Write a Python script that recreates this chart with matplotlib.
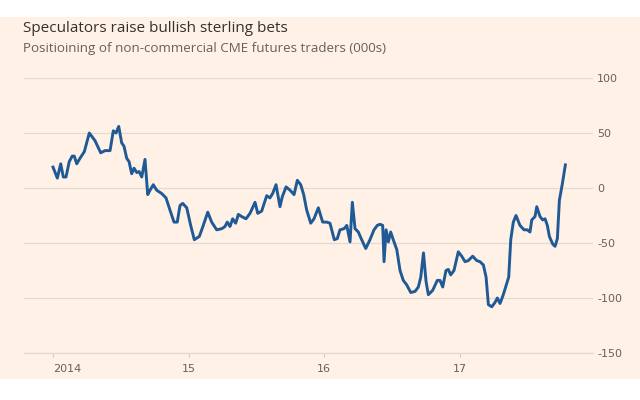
import numpy as np
import matplotlib
matplotlib.use('Agg')
import matplotlib.pyplot as plt
from matplotlib.patches import Rectangle

# decimal years and net positions (000s)
years = [2014.00, 2014.032, 2014.057, 2014.076, 2014.096, 2014.120, 2014.142, 2014.157,
         2014.175, 2014.199, 2014.231, 2014.268, 2014.310, 2014.352, 2014.384, 2014.421,
         2014.445, 2014.465, 2014.485, 2014.507, 2014.524, 2014.544, 2014.561, 2014.581,
         2014.598, 2014.618, 2014.635, 2014.655, 2014.679, 2014.699, 2014.716, 2014.740,
         2014.765, 2014.802, 2014.834, 2014.863, 2014.893, 2014.917, 2014.937, 2014.957,
         2014.987, 2015.016, 2015.043, 2015.080, 2015.109, 2015.142, 2015.171, 2015.208,
         2015.245, 2015.269, 2015.286, 2015.306, 2015.326, 2015.348, 2015.368, 2015.393,
         2015.424, 2015.454, 2015.491, 2015.511, 2015.540, 2015.577, 2015.601, 2015.621,
         2015.646, 2015.675, 2015.692, 2015.720, 2015.749, 2015.779, 2015.803, 2015.828,
         2015.850, 2015.872, 2015.902, 2015.926, 2015.958, 2015.990, 2016.020, 2016.044,
         2016.076, 2016.098, 2016.118, 2016.148, 2016.168, 2016.192, 2016.209, 2016.229,
         2016.253, 2016.278, 2016.308, 2016.339, 2016.369, 2016.393, 2016.413, 2016.433,
         2016.443, 2016.458, 2016.475, 2016.492, 2016.511, 2016.537, 2016.561, 2016.585,
         2016.610, 2016.640, 2016.672, 2016.696, 2016.714, 2016.734, 2016.753, 2016.770,
         2016.802, 2016.836, 2016.856, 2016.876, 2016.900, 2016.917, 2016.935, 2016.959,
         2016.991, 2017.016, 2017.041, 2017.065, 2017.097, 2017.127, 2017.151, 2017.176,
         2017.196, 2017.213, 2017.238, 2017.262, 2017.279, 2017.299, 2017.323, 2017.348,
         2017.363, 2017.378, 2017.397, 2017.417, 2017.446, 2017.476, 2017.500, 2017.520,
         2017.533, 2017.557, 2017.570, 2017.594, 2017.614, 2017.631, 2017.648, 2017.663,
         2017.688, 2017.705, 2017.722, 2017.737, 2017.759, 2017.781]
positions = [19, 9, 22, 10, 10, 24, 29, 29,
             22, 27, 33, 50, 43, 32, 34, 34,
             52, 50, 56, 41, 38, 27, 24, 13,
             18, 14, 15, 10, 26, -6, -2, 3,
             -2, -5, -9, -20, -31, -31, -16, -14,
             -18, -34, -47, -44, -34, -22, -31, -38,
             -37, -35, -31, -35, -28, -32, -24, -26,
             -28, -23, -13, -23, -21, -7, -9, -5,
             3, -17, -8, 1, -2, -6, 7, 3,
             -6, -20, -32, -28, -18, -31, -31, -32,
             -47, -46, -38, -37, -34, -49, -13, -37,
             -40, -47, -55, -47, -38, -34, -33, -34,
             -67, -38, -49, -40, -47, -56, -75, -84,
             -88, -95, -94, -90, -81, -59, -85, -97,
             -93, -84, -84, -90, -75, -74, -79, -75,
             -58, -62, -67, -66, -62, -66, -67, -70,
             -81, -106, -108, -104, -100, -105, -97, -87,
             -81, -47, -31, -25, -34, -38, -38, -40,
             -29, -26, -17, -26, -29, -28, -34, -44,
             -51, -53, -46, -11, 4, 21]

year_ticks = [2014, 2015, 2016, 2017]
year_labels = ['2014', '15', '16', '17']
y_ticks = [-150, -100, -50, 0, 50, 100]

bg = '#FFF1E5'
grid_c = '#E6DAD0'
text_c = '#66605C'

fig = plt.figure(figsize=(6.4, 4), dpi=100)
fig.patch.set_facecolor('white')
fig.patches.append(Rectangle((0, 21 / 400), 1, 362 / 400, transform=fig.transFigure,
                             facecolor=bg, edgecolor='none', zorder=-1))

ax = fig.add_axes([24 / 640, 47 / 400, 569 / 640, 275 / 400])
ax.set_facecolor('none')
ax.plot(years, positions, color='#1F5A96', lw=2.1, solid_joinstyle='round', zorder=3)

ax.set_xlim(2013.786, 2017.985)
ax.set_ylim(-150, 100)

for s in ['top', 'right', 'left']:
    ax.spines[s].set_visible(False)
ax.spines['bottom'].set_color(grid_c)
ax.spines['bottom'].set_linewidth(1)

ax.set_yticks(y_ticks)
ax.yaxis.tick_right()
ax.set_yticklabels([str(v) for v in y_ticks])
ax.tick_params(axis='y', length=0, pad=3, labelsize=8, labelcolor=text_c)
ax.grid(axis='y', color=grid_c, lw=0.9)
ax.set_axisbelow(True)

ax.set_xticks(year_ticks)
ax.set_xticklabels(year_labels)
ax.tick_params(axis='x', length=3, color='#D9CCC1', pad=5, labelsize=8, labelcolor=text_c)
ax.get_xticklabels()[0].set_horizontalalignment('left')

fig.text(23 / 640, 1 - 32 / 400, 'Speculators raise bullish sterling bets', fontsize=11,
         color='#33302E', family='Open Sans')
fig.text(23 / 640, 1 - 52 / 400, 'Positioining of non-commercial CME futures traders (000s)',
         fontsize=9.6, color=text_c, family='Open Sans')

fig.savefig('out.png', dpi=100, facecolor=fig.get_facecolor())
